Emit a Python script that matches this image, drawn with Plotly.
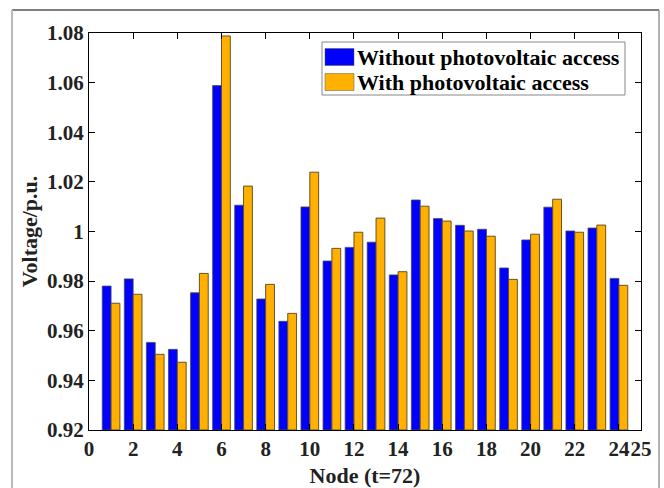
import plotly.graph_objects as go

nodes = list(range(1, 25))
without_pv = [0.9780, 0.9809, 0.9553, 0.9525, 0.9753, 1.0588, 1.0106, 0.9728,
              0.9638, 1.0099, 0.9881, 0.9936, 0.9957, 0.9825, 1.0127, 1.0052,
              1.0025, 1.0009, 0.9853, 0.9966, 1.0098, 1.0002, 1.0014, 0.9811]
with_pv = [0.9711, 0.9747, 0.9505, 0.9473, 0.9831, 1.0788, 1.0183, 0.9787,
           0.9670, 1.0239, 0.9932, 0.9997, 1.0054, 0.9838, 1.0102, 1.0042,
           1.0002, 0.9981, 0.9807, 0.9989, 1.0130, 0.9997, 1.0026, 0.9783]
series_names = ["Without photovoltaic access", "With photovoltaic access"]
series_colors = ["#0000FF", "#FFB000"]

x_ticks = [0, 2, 4, 6, 8, 10, 12, 14, 16, 18, 20, 22, 24, 25]
y_ticks = [0.92, 0.94, 0.96, 0.98, 1.00, 1.02, 1.04, 1.06, 1.08]
y_ticktext = ["0.92", "0.94", "0.96", "0.98", "1", "1.02", "1.04", "1.06", "1.08"]

FONT = "Times New Roman, Liberation Serif, serif"
BASE = 0.92

# plot area in pixels (for paper-coordinate helpers)
L, R, T, B = 89, 641, 33, 430
W, H = R - L, B - T


def px(x):
    return (x - L) / W


def py(y):
    return (B - y) / H


fig = go.Figure()
edge_colors = ["rgba(70,70,90,0.8)", "rgba(90,70,30,0.9)"]
for vals, name, col, ec in zip([without_pv, with_pv], series_names, series_colors, edge_colors):
    fig.add_trace(go.Bar(
        x=nodes, y=[v - BASE for v in vals], base=BASE, name=name,
        marker=dict(color=col, line=dict(color=ec, width=1)),
        showlegend=False,
    ))

axis_common = dict(
    showline=True, linecolor="black", linewidth=1, mirror="ticks",
    ticks="inside", ticklen=6, tickcolor="black", tickwidth=1,
    showgrid=False, zeroline=False, automargin=False,
    tickfont=dict(family=FONT, size=21, color="#222"),
)

fig.update_layout(
    width=664, height=488,
    margin=dict(l=L, r=664 - R, t=T, b=488 - B),
    paper_bgcolor="white", plot_bgcolor="white",
    barmode="group", bargap=0.2, bargroupgap=0,
    font=dict(family=FONT, color="#111"),
    xaxis=dict(axis_common, range=[0, 25], tickvals=x_ticks, tickangle=0,
               ticktext=["<b>%s</b>" % t for t in x_ticks],
               title=dict(text="<b>Node (t=72)</b>", font=dict(family=FONT, size=22, color="#222"),
                          standoff=8)),
    yaxis=dict(axis_common, range=[0.92, 1.08], tickvals=y_ticks,
               ticktext=["<b>%s</b>" % t for t in y_ticktext],
               title=dict(text="<b>Voltage/p.u.</b>", font=dict(family=FONT, size=22, color="#222"),
                          standoff=3)),
    showlegend=False,
)

# legend box (drawn to match the reference's MATLAB-style legend)
fig.add_shape(type="rect", xref="paper", yref="paper", x0=px(322), x1=px(625), y0=py(95), y1=py(42),
              line=dict(color="#888", width=1), fillcolor="white", layer="above")
for i, (name, col) in enumerate(zip(series_names, series_colors)):
    yc = 57 + 25 * i
    fig.add_shape(type="rect", xref="paper", yref="paper", x0=px(325), x1=px(354),
                  y0=py(yc + 8.5), y1=py(yc - 8.5),
                  line=dict(color="rgba(80,80,80,0.6)", width=0.8), fillcolor=col, layer="above")
    fig.add_annotation(xref="paper", yref="paper", x=px(355), y=py(yc), xanchor="left", yanchor="middle",
                       text="<b>%s</b>" % name, showarrow=False,
                       font=dict(family=FONT, size=22, color="black"))

# figure frame lines (window edges)
fig.add_shape(type="line", xref="paper", yref="paper", x0=px(12), x1=px(659),
              y0=py(10), y1=py(10), line=dict(color="#555", width=1.5))
fig.add_shape(type="line", xref="paper", yref="paper", x0=px(12), x1=px(12),
              y0=py(10), y1=py(500), line=dict(color="#bbb", width=2))
fig.add_shape(type="line", xref="paper", yref="paper", x0=px(659), x1=px(659),
              y0=py(10), y1=py(500), line=dict(color="#999", width=1.5))

fig.write_html("out.html")
